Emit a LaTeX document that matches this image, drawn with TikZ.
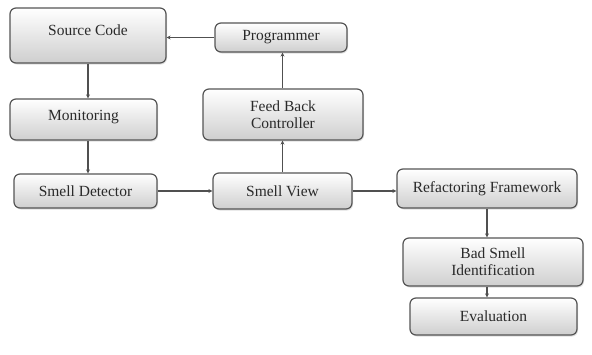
\documentclass[tikz,border=0pt]{standalone}
\usepackage{fontspec}
\setmainfont{Liberation Serif}
\usetikzlibrary{arrows.meta,shadows}
\definecolor{bordc}{HTML}{555555}
\definecolor{txtc}{HTML}{2A2A2A}
\definecolor{linec}{HTML}{505050}
\tikzset{
  box/.style={draw=bordc, line width=1.2pt, rounded corners=6pt,
    top color=white, bottom color=gray!38, text=txtc,
    font=\fontsize{15.5}{17}\selectfont, align=center, inner sep=2pt,
    drop shadow={shadow xshift=1pt, shadow yshift=-1.5pt, opacity=0.25}},
  arr/.style={draw=linec, line width=1.4pt, -{Stealth[length=4pt,width=4pt]}}
}
\begin{document}
\begin{tikzpicture}[x=1pt,y=-1pt]
\useasboundingbox (0,0) rectangle (592,354);
\node[box, minimum width=156pt, minimum height=55pt] (sc) at (88,35.5) {Source Code\\[-6pt]\mbox{}};
\node[box, minimum width=147pt, minimum height=41pt] (mon) at (83.5,119.5) {Monitoring\\[-9pt]\mbox{}};
\node[box, minimum width=143pt, minimum height=34pt] (sd) at (85.5,191) {Smell Detector};
\node[box, minimum width=139pt, minimum height=36pt] (sv) at (282.5,191) {Smell View};
\node[box, minimum width=132pt, minimum height=29pt] (pg) at (281,37.5) {Programmer};
\node[box, minimum width=160pt, minimum height=51pt] (fb) at (283,114.5) {Feed Back\\Controller};
\node[box, minimum width=180pt, minimum height=39pt] (rf) at (487,188.5) {Refactoring Framework};
\node[box, minimum width=180pt, minimum height=48pt] (bs) at (493,262) {Bad Smell\\Identification};
\node[box, minimum width=167pt, minimum height=37pt] (ev) at (493.5,316.5) {Evaluation};
\draw[arr] (pg.west) -- (pg.west -| sc.east);
\draw[arr] (sc.south) -- (sc.south |- mon.north);
\draw[arr] (sc.south |- mon.south) -- (sc.south |- sd.north);
\draw[arr] (sd.east) -- (sd.east -| sv.west);
\draw[arr] (sv.east) -- (sv.east -| rf.west);
\draw[arr] (sv.north) -- (sv.north |- fb.south);
\draw[arr] (sv.north |- fb.north) -- (sv.north |- pg.south);
\draw[arr] (rf.south) -- (rf.south |- bs.north);
\draw[arr] (rf.south |- bs.south) -- (rf.south |- ev.north);
\end{tikzpicture}
\end{document}
